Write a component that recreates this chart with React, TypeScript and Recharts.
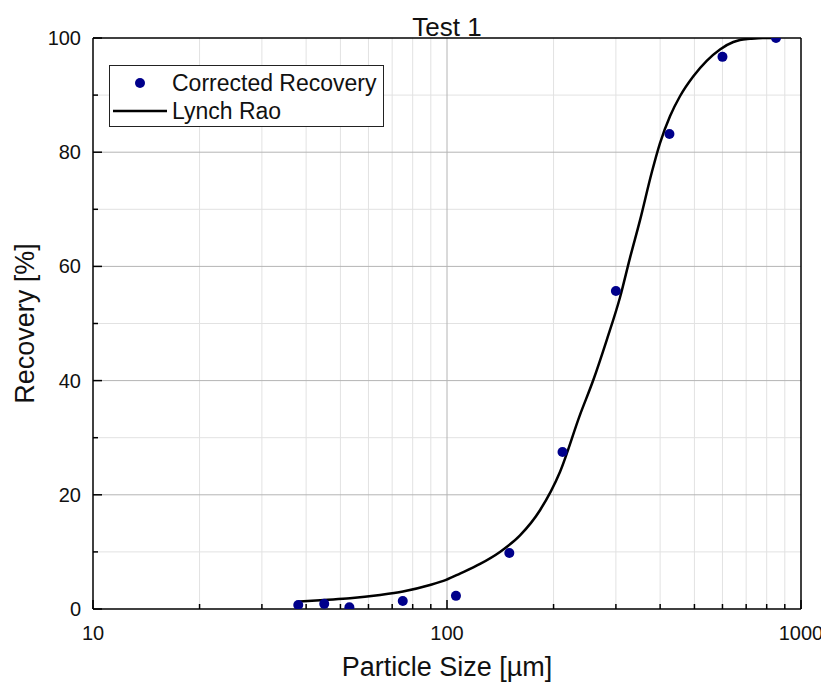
import React from 'react';
import {
  ComposedChart,
  Line,
  Scatter,
  XAxis,
  YAxis,
  ReferenceLine,
  Label,
} from 'recharts';

// Measured recovery per sieve size
const sizes = [38, 45, 53, 75, 106, 150, 212, 300, 425, 600, 850];
const recovery = [0.7, 0.9, 0.3, 1.4, 2.3, 9.8, 27.5, 55.7, 83.2, 96.7, 100];

// Lynch–Rao model curve
const fitSizes = [
  38, 45, 53.2, 64.7, 75.1, 89.5, 99.4, 108.8, 124, 141.1, 160.8, 183.1, 208.5,
  237.5, 259, 282.6, 308.2, 328.8, 351, 378.6, 399.7, 426.5, 455.1, 496.5, 541.5,
  590.3, 644, 672.5, 717.7, 780, 850,
];
const fitRecovery = [
  1.28, 1.58, 1.87, 2.45, 3.06, 4.2, 5.1, 6.2, 7.9, 10.0, 12.9, 17.3, 24.0,
  34.0, 40.1, 47.1, 54.6, 61.5, 68.1, 76.4, 81.6, 86.3, 89.8, 93.3, 96.0, 98.0,
  99.3, 99.65, 99.85, 100, 100,
];

// Axis ticks and grid values
const xMajor = [10, 100, 1000];
const xMinor = [20, 30, 40, 50, 60, 70, 80, 90, 200, 300, 400, 500, 600, 700, 800, 900];
const yMajor = [0, 20, 40, 60, 80, 100];
const yMinor = [10, 30, 50, 70, 90];

const points = sizes.map((d, i) => ({ d, r: recovery[i] }));
const curve = fitSizes.map((d, i) => ({ d, r: fitRecovery[i] }));

const FONT = '"Liberation Sans", Arial, sans-serif';
const DOT = '#00008b';

const XTick = (props: any) => {
  const { x, y, payload } = props;
  const major = xMajor.includes(payload.value);
  return (
    <g>
      <line x1={x} x2={x} y1={y} y2={y - (major ? 9 : 5)} stroke="#000" strokeWidth={1.5} />
      {major && (
        <text
          x={x}
          y={y + 24}
          textAnchor="middle"
          dominantBaseline="central"
          fontFamily={FONT}
          fontSize={20}
          fill="#111"
        >
          {payload.value}
        </text>
      )}
    </g>
  );
};

const YTick = (props: any) => {
  const { x, y, payload } = props;
  const major = yMajor.includes(payload.value);
  return (
    <g>
      <line x1={x} x2={x + (major ? 9 : 5)} y1={y} y2={y} stroke="#000" strokeWidth={1.5} />
      {major && (
        <text
          x={x - 12}
          y={y}
          textAnchor="end"
          dominantBaseline="central"
          fontFamily={FONT}
          fontSize={20}
          fill="#111"
        >
          {payload.value}
        </text>
      )}
    </g>
  );
};

const LegendBox = () => (
  <div
    style={{
      position: 'absolute',
      left: 101,
      top: 57,
      width: 273,
      height: 60,
      border: '1.5px solid #222',
      background: '#fff',
      fontFamily: FONT,
      fontSize: 23,
      color: '#111',
      boxSizing: 'content-box',
    }}
  >
    <svg width={60} height={60} style={{ position: 'absolute', left: 0, top: 0 }}>
      <circle cx={30} cy={17} r={5} fill={DOT} />
      <line x1={3} x2={57} y1={45} y2={45} stroke="#000" strokeWidth={2.5} />
    </svg>
    <div style={{ position: 'absolute', left: 62, top: 3, lineHeight: '28px', whiteSpace: 'nowrap' }}>
      Corrected Recovery
    </div>
    <div style={{ position: 'absolute', left: 62, top: 31, lineHeight: '28px', whiteSpace: 'nowrap' }}>
      Lynch Rao
    </div>
  </div>
);

export default function App() {
  return (
    <div style={{ position: 'relative', width: 821, height: 680 }}>
      <style>{'.recharts-surface { overflow: visible; }'}</style>
      <ComposedChart
        width={821}
        height={680}
        margin={{ top: 30, right: 28, bottom: 5, left: 5 }}
      >
        {xMinor.map((v) => (
          <ReferenceLine key={`xm${v}`} x={v} stroke="#e2e2e2" strokeWidth={1} />
        ))}
        {yMinor.map((v) => (
          <ReferenceLine key={`ym${v}`} y={v} stroke="#e2e2e2" strokeWidth={1} />
        ))}
        {xMajor.slice(1, 2).map((v) => (
          <ReferenceLine key={`xM${v}`} x={v} stroke="#b4b4b4" strokeWidth={1} />
        ))}
        {yMajor.slice(1, 5).map((v) => (
          <ReferenceLine key={`yM${v}`} y={v} stroke="#b4b4b4" strokeWidth={1} />
        ))}
        <ReferenceLine x={1000} stroke="#000" strokeWidth={1.5} />
        <ReferenceLine y={100} stroke="#000" strokeWidth={1.5}>
          <Label
            content={(p: any) => {
              const vb = p.viewBox;
              return (
                <text
                  x={vb.x + vb.width / 2}
                  y={vb.y - 11}
                  textAnchor="middle"
                  dominantBaseline="central"
                  fontFamily={FONT}
                  fontSize={26}
                  fill="#111"
                >
                  Test 1
                </text>
              );
            }}
          />
        </ReferenceLine>
        <XAxis
          dataKey="d"
          type="number"
          scale="log"
          domain={[10, 1000]}
          allowDataOverflow
          ticks={[...xMajor, ...xMinor].sort((a, b) => a - b)}
          interval={0}
          tickSize={0}
          tickMargin={0}
          tickLine={false}
          tick={<XTick />}
          axisLine={{ stroke: '#000', strokeWidth: 1.5 }}
          height={74}
        >
          <Label
            content={(p: any) => {
              const vb = p.viewBox;
              return (
                <text
                  x={vb.x + vb.width / 2}
                  y={vb.y + 58}
                  textAnchor="middle"
                  dominantBaseline="central"
                  fontFamily={FONT}
                  fontSize={27}
                  fill="#111"
                >
                  Particle Size [µm]
                </text>
              );
            }}
          />
        </XAxis>
        <YAxis
          type="number"
          domain={[0, 100]}
          allowDataOverflow
          ticks={[...yMajor, ...yMinor].sort((a, b) => a - b)}
          interval={0}
          tickSize={0}
          tickMargin={0}
          tickLine={false}
          tick={<YTick />}
          axisLine={{ stroke: '#000', strokeWidth: 1.5 }}
          width={80}
        >
          <Label
            content={(p: any) => {
              const vb = p.viewBox;
              const cx = vb.x + 12;
              const cy = vb.y + vb.height / 2;
              return (
                <text
                  x={cx}
                  y={cy}
                  transform={`rotate(-90, ${cx}, ${cy})`}
                  textAnchor="middle"
                  dominantBaseline="central"
                  fontFamily={FONT}
                  fontSize={27}
                  fill="#111"
                >
                  Recovery [%]
                </text>
              );
            }}
          />
        </YAxis>
        <Line
          data={curve}
          dataKey="r"
          type="monotone"
          stroke="#000"
          strokeWidth={2.5}
          dot={false}
          activeDot={false}
          isAnimationActive={false}
        />
        <Scatter
          data={points}
          dataKey="r"
          fill={DOT}
          shape={(p: any) => <circle cx={p.cx} cy={p.cy} r={5} fill={DOT} />}
          isAnimationActive={false}
        />
      </ComposedChart>
      <LegendBox />
    </div>
  );
}
